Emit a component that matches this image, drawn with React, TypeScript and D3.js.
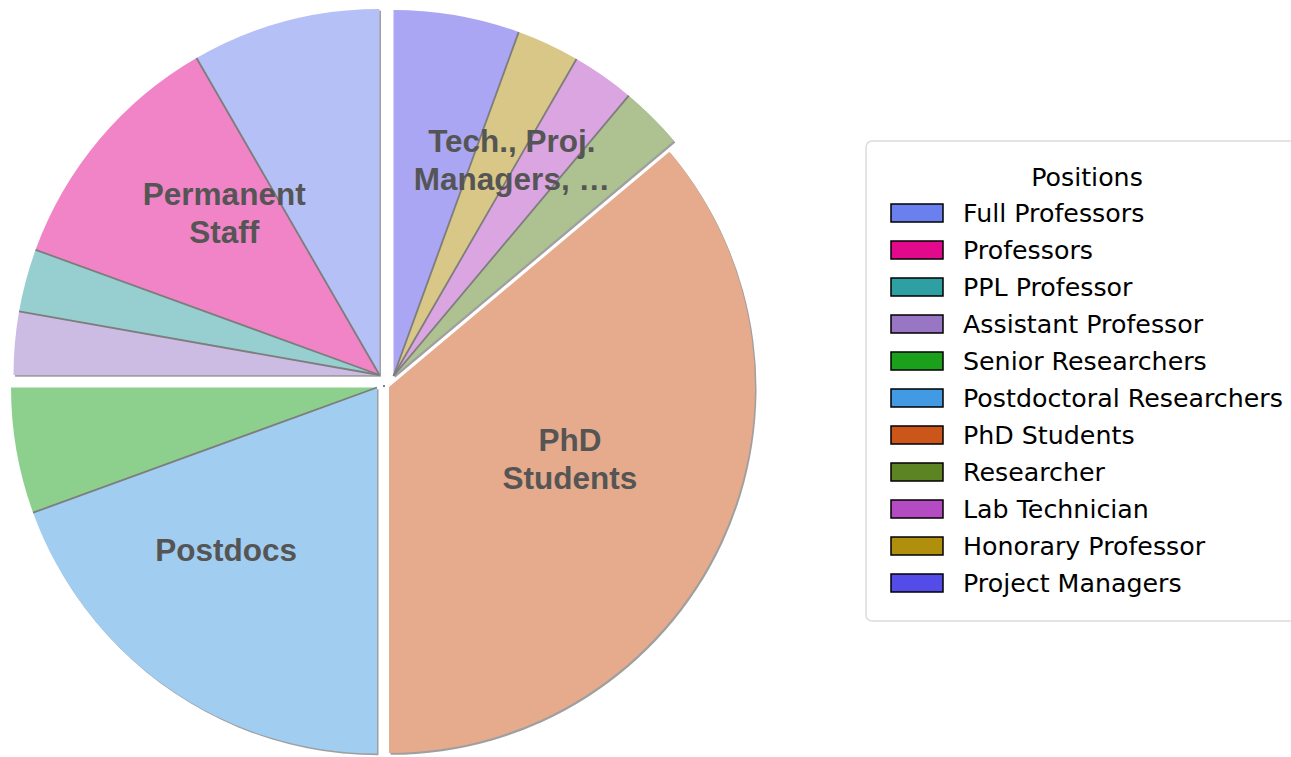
import React from 'react';
import * as d3 from 'd3';

// ---------- data ----------
const positions = [
  'Full Professors',
  'Professors',
  'PPL Professor',
  'Assistant Professor',
  'Senior Researchers',
  'Postdoctoral Researchers',
  'PhD Students',
  'Researcher',
  'Lab Technician',
  'Honorary Professor',
  'Project Managers',
];
const counts = [3, 4, 1, 1, 2, 7, 13, 1, 1, 1, 2];
const positionGroup = [0, 0, 0, 0, 1, 1, 2, 3, 3, 3, 3];
const groupNames = ['Permanent Staff', 'Postdocs', 'PhD Students', 'Tech., Proj. Managers, …'];
const groupLabelLines = [['Permanent', 'Staff'], ['Postdocs'], ['PhD', 'Students'], ['Tech., Proj.', 'Managers, …']];
const baseColors = [
  '#6a80ee', '#e2098d', '#2e9fa2', '#9976c4', '#1aa01a', '#429ae2',
  '#cc561a', '#5d8423', '#b54bc3', '#b08f0c', '#544ce8',
];
const legendTitle = 'Positions';

// ---------- layout / style ----------
const W = 1291;
const H = 757;
const CX = 384;
const CY = 383;
const R = 366;
// per-group displacement (explode)
const groupShift = [
  { dx: -4.5, dy: -8 },
  { dx: -7, dy: 4.5 },
  { dx: 5, dy: 4 },
  { dx: 9.5, dy: -7 },
];
const labelDist = [0.613, 0.606, 0.532, 0.673];
const labelNudge = [0.021, -0.037, -0.058, 0.065]; // radians
const fillAlpha = 0.5;

export default function App() {
  const pie = d3
    .pie<number>()
    .sort(null)
    .value((d) => d)
    .startAngle(0)
    .endAngle(-2 * Math.PI);
  const arcs = pie(counts);
  const arcGen = d3.arc<any>().innerRadius(0).outerRadius(R);
  const fills = baseColors.map((c) => d3.interpolateRgb(c, '#ffffff')(1 - fillAlpha));

  const groups = groupNames.map((name, g) => {
    const idx = positionGroup.map((pg, i) => (pg === g ? i : -1)).filter((i) => i >= 0);
    const a0 = arcs[idx[0]].startAngle;
    const a1 = arcs[idx[idx.length - 1]].endAngle;
    return { name, g, idx, a0, a1, mid: (a0 + a1) / 2 };
  });

  const lineGen = (a: number) => {
    const x = Math.sin(a) * R;
    const y = -Math.cos(a) * R;
    return `M0,0L${x},${y}`;
  };

  return (
    <svg
      width={W}
      height={H}
      style={{ position: 'absolute', left: 0, top: 0, background: '#fff' }}
    >
      <defs>
        <filter id="blur" x="-10%" y="-10%" width="120%" height="120%">
          <feGaussianBlur stdDeviation="0.7" />
        </filter>
      </defs>
      <g transform={`translate(${CX},${CY})`}>
        {/* shadows */}
        {groups.map((gr) => (
          <path
            key={'sh' + gr.g}
            transform={`translate(${groupShift[gr.g].dx + 1.5},${groupShift[gr.g].dy + 1.8})`}
            d={arcGen({ startAngle: gr.a0, endAngle: gr.a1 }) || ''}
            fill="#777"
            opacity={0.7}
            filter="url(#blur)"
          />
        ))}
        {/* wedges */}
        {groups.map((gr) => (
          <g key={'g' + gr.g} transform={`translate(${groupShift[gr.g].dx},${groupShift[gr.g].dy})`}>
            {gr.idx.map((i) => (
              <path key={i} d={arcGen(arcs[i]) || ''} fill={fills[i]} />
            ))}
            {gr.idx.slice(1).map((i) => (
              <path
                key={'ln' + i}
                d={lineGen(arcs[i].startAngle)}
                stroke="#7d7d7d"
                strokeWidth={1.8}
                fill="none"
              />
            ))}
          </g>
        ))}
        {/* group labels */}
        {groups.map((gr) => {
          const a = gr.mid + labelNudge[gr.g];
          const d = labelDist[gr.g] * R;
          const x = groupShift[gr.g].dx + Math.sin(a) * d;
          const y = groupShift[gr.g].dy - Math.cos(a) * d;
          const lines = groupLabelLines[gr.g];
          return (
            <text
              key={'lb' + gr.g}
              x={x}
              y={y}
              textAnchor="middle"
              fontFamily="'Liberation Sans', Arial, sans-serif"
              fontWeight="bold"
              fontSize={31.5}
              fill="#555555"
            >
              {lines.map((t, k) => (
                <tspan key={k} x={x} y={y + (k - (lines.length - 1) / 2) * 38} dominantBaseline="central">
                  {t}
                </tspan>
              ))}
            </text>
          );
        })}
        <circle cx={0} cy={3} r={1} fill="#555" />
      </g>

      {/* legend */}
      <g>
        <rect x={866} y={141} width={440} height={480} rx={6} fill="#fff" stroke="#dcdcdc" strokeWidth={1.5} />
        <text
          x={1087}
          y={177}
          textAnchor="middle"
          dominantBaseline="central"
          fontFamily="'DejaVu Sans', sans-serif"
          fontSize={25.3}
          fill="#000"
        >
          {legendTitle}
        </text>
        {positions.map((p, i) => (
          <g key={p} transform={`translate(0,${213 + i * 37})`}>
            <rect x={891} y={-9} width={52} height={18} fill={baseColors[i]} stroke="#000" strokeWidth={1.5} />
            <text
              x={963}
              y={0}
              dominantBaseline="central"
              fontFamily="'DejaVu Sans', sans-serif"
              fontSize={25.3}
              fill="#000"
            >
              {p}
            </text>
          </g>
        ))}
      </g>
    </svg>
  );
}
